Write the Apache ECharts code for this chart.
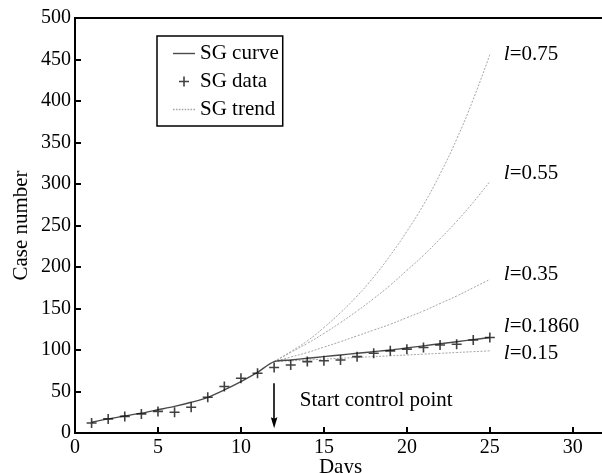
<!DOCTYPE html>
<html>
<head>
<meta charset="utf-8">
<script src="https://cdn.jsdelivr.net/npm/echarts@6/dist/echarts.min.js"></script>
<style>
  html, body { margin: 0; padding: 0; background: #fff; }
  #chart { width: 602px; height: 473px; }
</style>
</head>
<body>
<div id="chart"></div>
<script>
// Observed daily cases (SG data)
const dataDays = [1,2,3,4,5,6,7,8,9,10,11,12,13,14,15,16,17,18,19,20,21,22,23,24,25];
const sgData   = [12,17,20,23,26,25,31,43,56,66,72,79,82,86,87,88,92,96,99,101,103,106,107,112,115];

// Fitted curve (SG curve), l = 0.1860 after the control point
const curveDays = [1,2,3,4,5,6,7,8,9,10,11,12,13,14,15,16,17,18,19,20,21,22,23,24,25];
const sgCurve   = [13,17,20.5,24,28,32,37,43,52,62,73,86,88,90,92,94,96,98,100,102.5,105,107.5,110,112.5,115];

// Projected trends from day 12 for several control levels
const trendDays = [12,13,14,15,16,17,18,19,20,21,22,23,24,25];
const trend075 = [86,98,111,127,145,165,188,214,243,275,312,354,402,456];
const trend055 = [86,97,108,120,133,147,162,178,196,214,234,255,278,303];
const trend035 = [86,91.5,97,103.5,110,117,124,131,139,147,156,165,175,185];
const trend015 = [86,87,88,89,90,91,92,93,94,95,96,97,98,99];

const trendLabels = ['0.75', '0.55', '0.35', '0.15'];
const curveLabel = '0.1860';
const xTicks = [0,5,10,15,20,25,30];

const FONT = 'Liberation Serif';
const pair = (xs, ys) => xs.map((x, i) => [x, ys[i]]);
const plusPath = 'path://M4.2,0h1.6v4.2h4.2v1.6h-4.2v4.2h-1.6v-4.2h-4.2v-1.6h4.2z';
// Slim arrow head (points up before rotation along the line)
const arrowHead = 'path://M3,0L6,10L3,8.5L0,10z';

// Legend glyphs: a solid stroke and a dotted stroke
const solidIcon = 'path://M0,0h22v1.4h-22z';
let dottedIcon = 'path://';
for (let x = 0; x < 22; x += 3) dottedIcon += 'M' + x + ',0h1.6v1.4h-1.6z';

const labelRich = {
  i: { fontFamily: FONT, fontStyle: 'italic', fontSize: 21, color: '#000' },
  n: { fontFamily: FONT, fontSize: 21, color: '#000' }
};

function trendSeries(values, label, dy) {
  return {
    name: 'SG trend',
    type: 'line',
    data: pair(trendDays, values),
    symbol: 'none',
    smooth: true,
    lineStyle: { color: '#a6a6a6', width: 1, type: [2, 1.5] },
    itemStyle: { color: '#a6a6a6' },
    z: 2,
    endLabel: {
      show: true,
      formatter: '{i|l}{n|=' + label + '}',
      rich: labelRich,
      distance: 14,
      offset: [0, dy]
    }
  };
}

const chart = echarts.init(document.getElementById('chart'), null, { renderer: 'canvas' });

chart.setOption({
  animation: false,
  backgroundColor: '#fff',
  grid: {
    left: 75, top: 18, width: 531, height: 415,
    outerBoundsMode: 'none',
    containLabel: false,
    show: true, borderColor: '#000', borderWidth: 2
  },
  legend: {
    orient: 'vertical',
    left: 157, top: 36,
    padding: [7, 4, 6, 16],
    itemGap: 7,
    itemWidth: 22,
    itemHeight: 10,
    borderColor: '#000',
    borderWidth: 1.5,
    borderRadius: 0,
    textStyle: { fontFamily: FONT, fontSize: 21, color: '#000' },
    data: [
      { name: 'SG curve', icon: solidIcon, itemStyle: { color: '#4a4a4a' } },
      { name: 'SG data' },
      { name: 'SG trend', icon: dottedIcon, itemStyle: { color: '#a6a6a6' } }
    ]
  },
  xAxis: {
    type: 'value',
    min: 0, max: 32, interval: 5,
    name: 'Days',
    nameLocation: 'middle',
    nameGap: 24,
    nameMoveOverlap: false,
    nameTextStyle: { fontFamily: FONT, fontSize: 21, color: '#000' },
    axisLine: { lineStyle: { color: '#000', width: 2 } },
    axisTick: { inside: true, length: 6, lineStyle: { color: '#000', width: 2 } },
    axisLabel: {
      fontFamily: FONT, fontSize: 20, color: '#000', margin: 5,
      showMaxLabel: false,
      formatter: v => (xTicks.indexOf(v) >= 0 ? String(v) : '')
    },
    splitLine: { show: false }
  },
  yAxis: {
    type: 'value',
    min: 0, max: 500, interval: 50,
    name: 'Case number',
    nameLocation: 'middle',
    nameGap: 43,
    nameMoveOverlap: false,
    nameTextStyle: { fontFamily: FONT, fontSize: 21, color: '#000' },
    axisLine: { lineStyle: { color: '#000', width: 2 } },
    axisTick: { inside: true, length: 6, lineStyle: { color: '#000', width: 2 } },
    axisLabel: { fontFamily: FONT, fontSize: 20, color: '#000', margin: 4 },
    splitLine: { show: false }
  },
  series: [
    {
      name: 'SG curve',
      type: 'line',
      data: pair(curveDays, sgCurve),
      symbol: 'none',
      smooth: 0.3,
      lineStyle: { color: '#4a4a4a', width: 1.4 },
      itemStyle: { color: '#4a4a4a' },
      z: 3,
      endLabel: {
        show: true,
        formatter: '{i|l}{n|=' + curveLabel + '}',
        rich: labelRich,
        distance: 14,
        offset: [0, -11]
      },
      markLine: {
        silent: true,
        symbol: ['none', arrowHead],
        symbolSize: 11,
        symbolKeepAspect: true,
        lineStyle: { color: '#000', width: 1.6, type: 'solid' },
        itemStyle: { color: '#000' },
        label: { show: false },
        data: [[{ coord: [12, 60] }, { coord: [12, 12.5] }]]
      },
      markPoint: {
        silent: true,
        symbol: 'circle',
        symbolSize: 0,
        label: {
          show: true,
          position: 'right',
          distance: 0,
          formatter: 'Start control point',
          fontFamily: FONT, fontSize: 21, color: '#000'
        },
        data: [{ coord: [13.55, 39] }]
      }
    },
    {
      name: 'SG data',
      type: 'scatter',
      data: pair(dataDays, sgData),
      symbol: plusPath,
      symbolSize: 10,
      itemStyle: { color: '#111' },
      z: 4
    },
    trendSeries(trend075, trendLabels[0], 0),
    trendSeries(trend055, trendLabels[1], -8),
    trendSeries(trend035, trendLabels[2], -5),
    trendSeries(trend015, trendLabels[3], 3)
  ]
});
</script>
</body>
</html>
